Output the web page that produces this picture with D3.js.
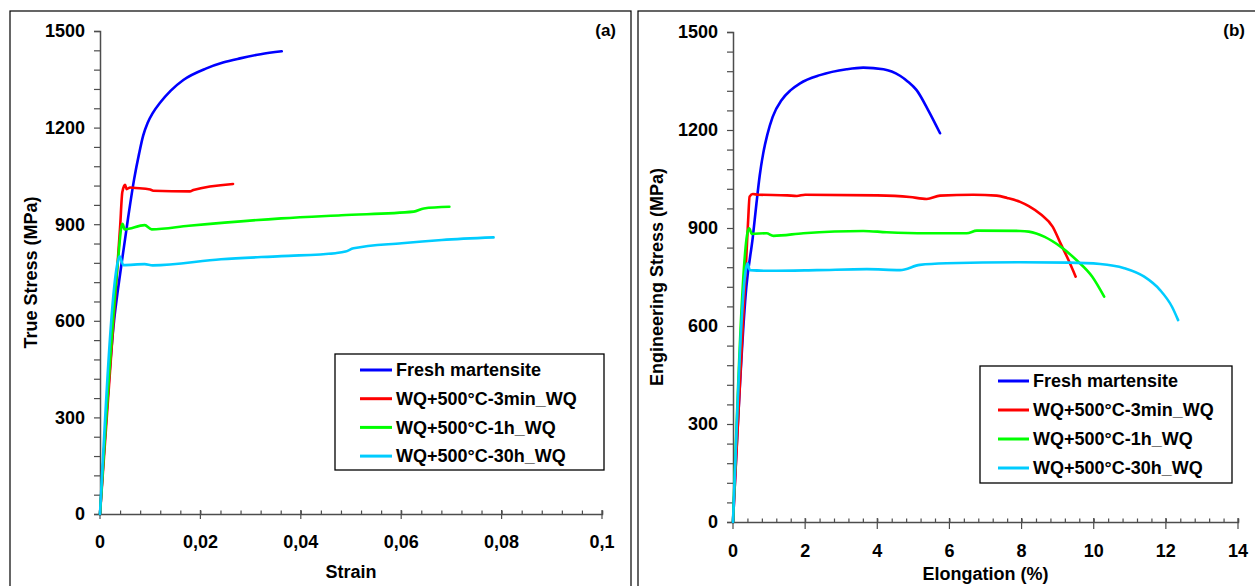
<!DOCTYPE html>
<html>
<head>
<meta charset="utf-8">
<script src="https://cdn.jsdelivr.net/npm/d3@7"></script>
<style>
  body { margin: 0; background: #fff; }
  svg { display: block; }
  text { font-family: "Liberation Sans", Arial, sans-serif; font-weight: bold; fill: #000; }
</style>
</head>
<body>
<svg id="chart" width="1255" height="586"></svg>
<script>
// ---------- DATA ----------
const seriesNames = ["Fresh martensite", "WQ+500°C-3min_WQ", "WQ+500°C-1h_WQ", "WQ+500°C-30h_WQ"];
const seriesColors = ["#0000ff", "#ff0000", "#00ff00", "#00ccff"];

// Panel (a): true stress vs strain
const strainFresh = [0, 0.0028, 0.0036, 0.0045, 0.0056, 0.0068, 0.0078, 0.0086, 0.0095, 0.0105, 0.012, 0.0141, 0.0166, 0.0212, 0.0245, 0.0279, 0.032, 0.0362];
const trueFresh   = [0, 600, 700, 800, 920, 1040, 1120, 1175, 1215, 1245, 1278, 1315, 1348, 1384, 1402, 1415, 1428, 1437];
const strain3min  = [0, 0.0036, 0.004, 0.00445, 0.005, 0.0053, 0.006, 0.0066, 0.01, 0.0106, 0.0179, 0.0186, 0.0265];
const true3min    = [0, 800, 890, 1000, 1022, 1009, 1014, 1013, 1008, 1004, 1002, 1006, 1025];
const strain1h    = [0, 0.0036, 0.0043, 0.0045, 0.0049, 0.0089, 0.0103, 0.0177, 0.0361, 0.0481, 0.0625, 0.0645, 0.0696];
const true1h      = [0, 790, 895, 901, 884, 897, 884, 895, 918, 928, 939, 949, 954];
const strain30h   = [0, 0.00365, 0.0039, 0.00465, 0.0089, 0.0105, 0.0241, 0.0361, 0.0469, 0.0489, 0.0505, 0.0601, 0.0681, 0.0784];
const true30h     = [0, 790, 800, 773, 776, 772, 791, 801, 810, 815, 825, 841, 851, 859];

// Panel (b): engineering stress vs elongation (%)
const elongFresh = [0, 0.37, 0.55, 0.65, 0.74, 0.84, 0.95, 1.1, 1.35, 1.6, 1.86, 2.41, 3.15, 3.61, 4.17, 4.4, 4.63, 4.85, 5.09, 5.41, 5.74];
const engFresh   = [0, 720, 873, 975, 1060, 1130, 1185, 1240, 1292, 1322, 1343, 1368, 1386, 1391, 1386, 1379, 1366, 1348, 1322, 1261, 1190];
const elong3min  = [0, 0.42, 0.46, 0.55, 0.69, 1.5, 1.77, 2.0, 4.0, 4.9, 5.37, 5.74, 6.66, 7.31, 7.6, 7.96, 8.2, 8.53, 8.86, 9.08, 9.3, 9.5];
const eng3min    = [0, 924, 996, 1004, 1002, 1000, 998, 1002, 1000, 995, 989, 999, 1002, 999, 992, 980, 967, 942, 904, 853, 802, 751];
const elong1h    = [0, 0.42, 0.45, 0.52, 0.93, 1.12, 1.95, 3.61, 4.26, 5.37, 6.48, 6.76, 7.96, 8.2, 8.64, 9.08, 9.52, 9.96, 10.29];
const eng1h      = [0, 894, 899, 882, 884, 876, 884, 891, 887, 884, 884, 892, 891, 889, 873, 843, 802, 751, 690];
const elong30h   = [0, 0.37, 0.4, 0.47, 1.03, 2.32, 3.71, 4.63, 5.18, 5.92, 7.96, 9.3, 10.18, 10.85, 11.4, 11.84, 12.17, 12.34];
const eng30h     = [0, 781, 792, 771, 769, 771, 774, 771, 787, 792, 795, 794, 790, 777, 751, 710, 659, 618];

// Tick labels
const yTickValues = [0, 300, 600, 900, 1200, 1500];
const xTickValuesA = [0, 0.02, 0.04, 0.06, 0.08, 0.1];
const xTickLabelsA = ["0", "0,02", "0,04", "0,06", "0,08", "0,1"];
const xTickValuesB = [0, 2, 4, 6, 8, 10, 12, 14];
const xTickLabelsB = ["0", "2", "4", "6", "8", "10", "12", "14"];

// ---------- DRAW ----------
const svg = d3.select("#chart");
const zip = (xs, ys) => xs.map((x, i) => [x, ys[i]]);

function panel(cfg) {
  const g = svg.append("g");
  g.append("rect").attr("x", cfg.frame[0]).attr("y", cfg.frame[1])
    .attr("width", cfg.frame[2]).attr("height", cfg.frame[3])
    .attr("fill", "none").attr("stroke", "#000").attr("stroke-width", 1.2);

  const x = d3.scaleLinear().domain(cfg.xDomain).range(cfg.xRange);
  const y = d3.scaleLinear().domain([0, 1500]).range(cfg.yRange);

  const axisColor = "#4d4d4d";
  const yAx = g.append("g").attr("transform", `translate(${cfg.xRange[0]},0)`)
    .call(d3.axisLeft(y).tickValues(d3.range(0, 1501, 60)).tickSize(6).tickFormat(""));
  yAx.select(".domain").attr("stroke", axisColor).attr("stroke-width", 1.5);
  yAx.selectAll(".tick line").attr("stroke", axisColor).attr("stroke-width", 1.2);
  g.selectAll(".ylab").data(yTickValues).join("text")
    .attr("x", cfg.xRange[0] - 15).attr("y", d => y(d)).attr("dy", "0.35em")
    .attr("text-anchor", "end").attr("font-size", 18).text(d => d);

  const xAx = g.append("g").attr("transform", `translate(0,${cfg.yRange[0]})`)
    .call(d3.axisBottom(x).tickValues(d3.range(0, cfg.nMinor + 1).map(i => cfg.xDomain[1] * i / cfg.nMinor))
      .tickSize(-3.5).tickFormat(""));
  xAx.select(".domain").attr("stroke", axisColor).attr("stroke-width", 1.5);
  xAx.selectAll(".tick line").attr("stroke", axisColor).attr("stroke-width", 1.2);
  g.selectAll(".xmaj").data(cfg.xTicks).join("line")
    .attr("x1", d => x(d)).attr("x2", d => x(d))
    .attr("y1", cfg.yRange[0] - 4).attr("y2", cfg.yRange[0] + cfg.majDown)
    .attr("stroke", axisColor).attr("stroke-width", 1.2);
  g.selectAll(".xlab").data(cfg.xTicks).join("text")
    .attr("x", d => x(d)).attr("y", cfg.yRange[0] + cfg.xLabOff)
    .attr("text-anchor", "middle").attr("font-size", 18)
    .text((d, i) => cfg.xLabels[i]);

  g.append("text").attr("x", (cfg.xRange[0] + cfg.xRange[1]) / 2).attr("y", cfg.xTitleY)
    .attr("text-anchor", "middle").attr("font-size", 18).text(cfg.xTitle);
  g.append("text").attr("transform", `translate(${cfg.yTitleX},${(cfg.yRange[0] + cfg.yRange[1]) / 2}) rotate(-90)`)
    .attr("text-anchor", "middle").attr("font-size", 18).text(cfg.yTitle);
  g.append("text").attr("x", cfg.tag[0]).attr("y", cfg.tag[1]).attr("text-anchor", "end")
    .attr("font-size", 17).text(cfg.tagText);

  const line = d3.line().x(d => x(d[0])).y(d => y(d[1])).curve(d3.curveMonotoneX);
  cfg.series.forEach((s, i) => {
    g.append("path").attr("d", line(s)).attr("fill", "none")
      .attr("stroke", seriesColors[i]).attr("stroke-width", 2.6)
      .attr("stroke-linejoin", "round").attr("stroke-linecap", "round");
  });

  const L = cfg.legend;
  g.append("rect").attr("x", L.x).attr("y", L.y).attr("width", L.w).attr("height", L.h)
    .attr("fill", "#fff").attr("stroke", "#000").attr("stroke-width", 1.3);
  seriesNames.forEach((name, i) => {
    const ry = L.y + L.first + i * L.step;
    g.append("line").attr("x1", L.x + L.lx1).attr("x2", L.x + L.lx2).attr("y1", ry).attr("y2", ry)
      .attr("stroke", seriesColors[i]).attr("stroke-width", 3);
    g.append("text").attr("x", L.x + L.tx).attr("y", ry).attr("dy", "0.35em")
      .attr("font-size", 18).text(name);
  });
}

panel({
  frame: [10, 11, 621, 600],
  xDomain: [0, 0.1], xRange: [100, 602], yRange: [514, 31],
  nMinor: 25, majDown: 5, xLabOff: 34,
  xTicks: xTickValuesA, xLabels: xTickLabelsA,
  xTitle: "Strain", xTitleY: 578,
  yTitle: "True Stress (MPa)", yTitleX: 37,
  tag: [616, 36], tagText: "(a)",
  series: [zip(strainFresh, trueFresh), zip(strain3min, true3min), zip(strain1h, true1h), zip(strain30h, true30h)],
  legend: { x: 335, y: 354, w: 269, h: 116, first: 16, step: 28.7, lx1: 25, lx2: 57, tx: 61 }
});

panel({
  frame: [638, 11, 640, 600],
  xDomain: [0, 14], xRange: [733, 1238], yRange: [522, 32],
  nMinor: 35, majDown: 7, xLabOff: 35,
  xTicks: xTickValuesB, xLabels: xTickLabelsB,
  xTitle: "Elongation (%)", xTitleY: 580,
  yTitle: "Engineering Stress (MPa)", yTitleX: 663,
  tag: [1245, 36], tagText: "(b)",
  series: [zip(elongFresh, engFresh), zip(elong3min, eng3min), zip(elong1h, eng1h), zip(elong30h, eng30h)],
  legend: { x: 980, y: 366, w: 252, h: 117, first: 15, step: 29, lx1: 18, lx2: 49, tx: 53 }
});
</script>
</body>
</html>
